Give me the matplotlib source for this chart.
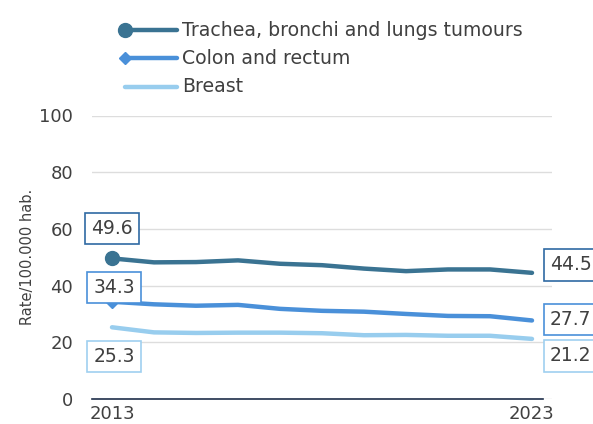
import matplotlib
matplotlib.use("Agg")
import matplotlib.pyplot as plt
from matplotlib.lines import Line2D

years = [2013, 2014, 2015, 2016, 2017, 2018, 2019, 2020, 2021, 2022, 2023]
lung = [49.6, 48.2, 48.3, 48.9, 47.7, 47.2, 46.0, 45.1, 45.7, 45.7, 44.5]
colon = [34.3, 33.4, 32.9, 33.2, 31.8, 31.1, 30.8, 30.0, 29.3, 29.2, 27.7]
breast = [25.3, 23.5, 23.3, 23.4, 23.4, 23.2, 22.5, 22.6, 22.3, 22.3, 21.2]
series_names = ["Trachea, bronchi and lungs tumours", "Colon and rectum", "Breast"]
x_ticks = [2013, 2023]
y_ticks = [0, 20, 40, 60, 80, 100]

c_lung = "#3a7392"
c_colon = "#4a90d9"
c_breast = "#98cdee"
box_edges = ["#2f6aa3", "#4a90d9", "#9fd0f0"]
txt = "#404040"

W, H = 593, 424
fig = plt.figure(figsize=(W / 100, H / 100), dpi=100)
ax = fig.add_axes([92 / W, 1 - 399 / H, (552 - 92) / W, (399 - 115.5) / H])
ax.set_xlim(2013 - 20 / 42, 2023 + 20 / 42)
ax.set_ylim(0, 100)

ax.plot(years, lung, color=c_lung, lw=3.2, solid_capstyle="round", zorder=3)
ax.plot(years[:1], lung[:1], "o", color=c_lung, ms=10, zorder=4)
ax.plot(years, colon, color=c_colon, lw=3.2, solid_capstyle="round", zorder=3)
ax.plot(years[:1], colon[:1], "D", color=c_colon, ms=6, zorder=4)
ax.plot(years, breast, color=c_breast, lw=3.2, solid_capstyle="round", zorder=3)

ax.set_yticks(y_ticks)
ax.set_xticks(x_ticks)
ax.set_xticklabels([str(v) for v in x_ticks])
ax.grid(axis="y", color="#dddddd", lw=1.0)
ax.set_axisbelow(True)
for s in ["top", "right", "left"]:
    ax.spines[s].set_visible(False)
ax.spines["bottom"].set_color("#1f2f4a")
ax.spines["bottom"].set_linewidth(1.2)
ax.spines["bottom"].set_bounds(2013 - 20 / 42, 2023 + 11 / 42)
ax.tick_params(axis="both", length=0, labelsize=13, colors=txt)
ax.tick_params(axis="y", pad=13.5)
ax.tick_params(axis="x", pad=4.5)
ax.set_ylabel("Rate/100.000 hab.", fontsize=10.5, color=txt, labelpad=3)

def label(xv, yv, s, dx, dy, ec, ha="center"):
    ax.annotate(s, xy=(xv, yv), xytext=(dx, dy), textcoords="offset pixels",
                ha=ha, va="center", fontsize=13.5, color=txt, zorder=6,
                annotation_clip=False,
                bbox=dict(boxstyle="square,pad=0.33", fc="white", ec=ec, lw=1.2))

label(years[0], lung[0], f"{lung[0]:.1f}", 0, 30, box_edges[0])
label(years[0], colon[0], f"{colon[0]:.1f}", 2, 14, box_edges[1])
label(years[0], breast[0], f"{breast[0]:.1f}", 2, -29, box_edges[2])
label(years[-1], lung[-1], f"{lung[-1]:.1f}", 18, 8, box_edges[0], ha="left")
label(years[-1], colon[-1], f"{colon[-1]:.1f}", 18, 1, box_edges[1], ha="left")
label(years[-1], breast[-1], f"{breast[-1]:.1f}", 18, -17, box_edges[2], ha="left")

# legend (manual)
leg_rows = [30, 58, 87]
leg_cols = [c_lung, c_colon, c_breast]
leg_mk = ["o", "D", None]
leg_ms = [10, 6, 0]
for yy, name, col, mk, ms in zip(leg_rows, series_names, leg_cols, leg_mk, leg_ms):
    yf = 1 - yy / H
    fig.add_artist(Line2D([125 / W, 177 / W], [yf, yf], transform=fig.transFigure,
                          color=col, lw=3.2, solid_capstyle="round"))
    if mk:
        fig.add_artist(Line2D([125 / W], [yf], transform=fig.transFigure,
                              marker=mk, color=col, ms=ms, lw=0))
    fig.text(182 / W, yf, name, fontsize=13.6, color=txt, va="center", ha="left")

fig.savefig("out.png", dpi=100)
